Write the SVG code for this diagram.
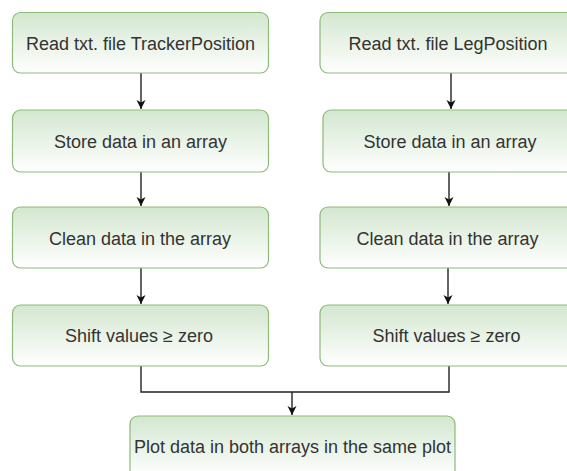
<svg xmlns="http://www.w3.org/2000/svg" width="567" height="471" viewBox="0 0 567 471">
<style>
.box{fill:url(#g);stroke:#8dba78;stroke-width:1.2}
.t{font-family:"Liberation Sans",Arial,sans-serif;font-size:18px;fill:#333;text-anchor:middle}
.c{fill:none;stroke:#222;stroke-width:1.4}
</style>
<defs>
<linearGradient id="g" x1="0" y1="0" x2="0" y2="1">
<stop offset="0" stop-color="#d3e7cf"/>
<stop offset="1" stop-color="#ffffff"/>
</linearGradient>
<marker id="a" markerWidth="10" markerHeight="10" refX="9" refY="5" orient="auto" markerUnits="userSpaceOnUse">
<path d="M0,0.5 L9,5 L0,9.5 L2.5,5 Z" fill="#111"/>
</marker>
</defs>
<rect width="567" height="471" fill="#fff"/>
<g id="connectors">
<line class="c" x1="141" y1="73" x2="141" y2="109" marker-end="url(#a)"/>
<line class="c" x1="141" y1="172" x2="141" y2="206" marker-end="url(#a)"/>
<line class="c" x1="141" y1="268" x2="141" y2="304" marker-end="url(#a)"/>
<line class="c" x1="451" y1="73" x2="451" y2="109" marker-end="url(#a)"/>
<line class="c" x1="449" y1="172" x2="449" y2="206" marker-end="url(#a)"/>
<line class="c" x1="448" y1="268" x2="448" y2="304" marker-end="url(#a)"/>
<polyline class="c" points="141,366 141,392 449,392 449,366"/>
<line class="c" x1="292" y1="392" x2="292" y2="415" marker-end="url(#a)"/>
</g>
<g id="n1"><rect class="box" x="12.5" y="12.5" width="256" height="60.5" rx="8"/><text class="t" x="140.5" y="50">Read txt. file TrackerPosition</text></g>
<g id="n2"><rect class="box" x="12.5" y="110" width="256" height="62" rx="8"/><text class="t" x="140.5" y="147.5">Store data in an array</text></g>
<g id="n3"><rect class="box" x="12.5" y="207" width="256" height="61" rx="8"/><text class="t" x="140" y="244.5">Clean data in the array</text></g>
<g id="n4"><rect class="box" x="12.5" y="305" width="256" height="61" rx="8"/><text class="t" x="139" y="342">Shift values ≥ zero</text></g>
<g id="n5"><rect class="box" x="320" y="12.5" width="257" height="60.5" rx="8"/><text class="t" x="448" y="50">Read txt. file LegPosition</text></g>
<g id="n6"><rect class="box" x="323" y="110" width="257" height="62" rx="8"/><text class="t" x="450" y="147.5">Store data in an array</text></g>
<g id="n7"><rect class="box" x="320" y="207" width="257" height="61" rx="8"/><text class="t" x="447.5" y="244.5">Clean data in the array</text></g>
<g id="n8"><rect class="box" x="320" y="305" width="257" height="61" rx="8"/><text class="t" x="446.5" y="342">Shift values ≥ zero</text></g>
<g id="n9"><rect class="box" x="130" y="416" width="325" height="62" rx="8"/><text class="t" x="292.5" y="453">Plot data in both arrays in the same plot</text></g>
</svg>
